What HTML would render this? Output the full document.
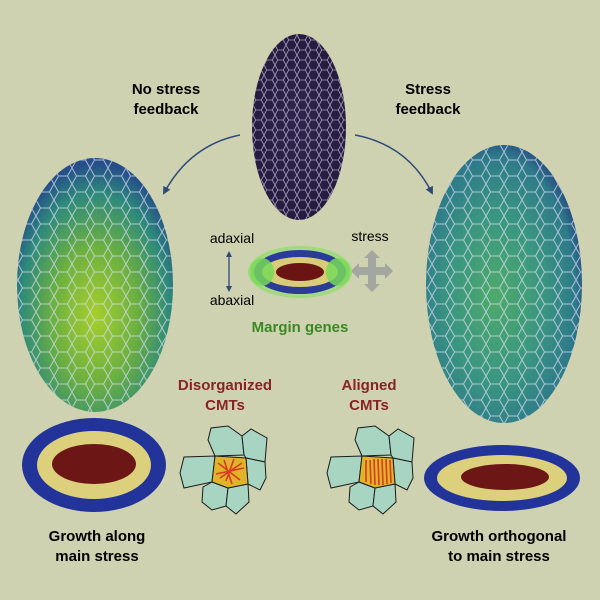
<!DOCTYPE html>
<html><head><style>
html,body{margin:0;padding:0;background:#cfd2b0;}
svg{display:block}
text{font-family:"Liberation Sans",Arial,sans-serif;}
</style></head><body>
<svg width="600" height="600" viewBox="0 0 600 600" xmlns="http://www.w3.org/2000/svg">
<defs>
 <pattern id="hex" width="18" height="16" patternUnits="userSpaceOnUse">
  <path d="M0 8 L4.5 0 L13.5 0 L18 8 L13.5 16 L4.5 16 Z" fill="none" stroke="#d8dcf0" stroke-width="1" opacity="0.75"/>
 </pattern>
 <pattern id="hexs" width="11" height="10" patternUnits="userSpaceOnUse">
  <path d="M0 5 L2.7 0 L8.3 0 L11 5 L8.3 10 L2.7 10 Z" fill="none" stroke="#c9c4e0" stroke-width="0.8" opacity="0.75"/>
 </pattern>
 <radialGradient id="gl" cx="0.5" cy="0.62" r="0.6">
  <stop offset="0" stop-color="#a6cf2c"/><stop offset="0.45" stop-color="#6cb040"/><stop offset="0.8" stop-color="#2e8a7a"/><stop offset="1" stop-color="#254e8a"/>
 </radialGradient>
 <radialGradient id="gr" cx="0.45" cy="0.55" r="0.6">
  <stop offset="0" stop-color="#4eaa6a"/><stop offset="0.5" stop-color="#3a9680"/><stop offset="0.85" stop-color="#2e7a8a"/><stop offset="1" stop-color="#243e80"/>
 </radialGradient>
 <radialGradient id="gp" cx="0.5" cy="0.5" r="0.6">
  <stop offset="0" stop-color="#30244e"/><stop offset="1" stop-color="#231a3c"/>
 </radialGradient>
 <radialGradient id="gm" cx="0.5" cy="0.5" r="0.55">
  <stop offset="0.6" stop-color="#7ee05a" stop-opacity="0"/><stop offset="1" stop-color="#7ee05a" stop-opacity="0.9"/>
 </radialGradient>
 <marker id="ah" markerWidth="8" markerHeight="8" refX="6" refY="4" orient="auto" markerUnits="userSpaceOnUse">
  <path d="M0 0 L8 4 L0 8 Z" fill="#2e4a78"/>
 </marker>
</defs>

<ellipse cx="299" cy="127" rx="47" ry="93" fill="url(#gp)"/>
<ellipse cx="299" cy="127" rx="47" ry="93" fill="url(#hexs)"/>

<ellipse cx="95" cy="285" rx="78" ry="127" fill="url(#gl)"/>
<ellipse cx="95" cy="285" rx="78" ry="127" fill="url(#hex)"/>
<ellipse cx="504" cy="284" rx="78" ry="139" fill="url(#gr)"/>
<ellipse cx="504" cy="284" rx="78" ry="139" fill="url(#hex)"/>

<path d="M240 135 Q190 145 164 193" fill="none" stroke="#2e4a78" stroke-width="1.5" marker-end="url(#ah)"/>
<path d="M355 135 Q408 145 432 193" fill="none" stroke="#2e4a78" stroke-width="1.5" marker-end="url(#ah)"/>

<text x="166" y="94" font-size="15" font-weight="bold" text-anchor="middle">No stress</text>
<text x="166" y="114" font-size="15" font-weight="bold" text-anchor="middle">feedback</text>
<text x="428" y="94" font-size="15" font-weight="bold" text-anchor="middle">Stress</text>
<text x="428" y="114" font-size="15" font-weight="bold" text-anchor="middle">feedback</text>

<text x="232" y="243" font-size="14" text-anchor="middle">adaxial</text>
<text x="232" y="305" font-size="14" text-anchor="middle">abaxial</text>
<line x1="229" y1="254" x2="229" y2="289" stroke="#2e4a78" stroke-width="1.3"/>
<path d="M226 257 L229 251 L232 257 Z M226 286 L229 292 L232 286 Z" fill="#2e4a78"/>
<text x="370" y="241" font-size="14" text-anchor="middle">stress</text>
<path d="M372 250 L380 258 L376 258 L376 267 L385 267 L385 263 L393 271 L385 279 L385 275 L376 275 L376 284 L380 284 L372 292 L364 284 L368 284 L368 275 L359 275 L359 279 L351 271 L359 263 L359 267 L368 267 L368 258 L364 258 Z" fill="#a4a6a0"/>
<ellipse cx="300" cy="272" rx="52" ry="26" fill="url(#gm)"/>
<ellipse cx="300" cy="272" rx="46" ry="22" fill="#2a3c98"/>
<ellipse cx="300" cy="272" rx="38" ry="15" fill="#d8cc78"/>
<ellipse cx="300" cy="272" rx="24" ry="9" fill="#6a1414"/>
<ellipse cx="262" cy="272" rx="12" ry="14" fill="#78d858" opacity="0.85"/>
<ellipse cx="338" cy="272" rx="12" ry="14" fill="#78d858" opacity="0.85"/>
<text x="300" y="332" font-size="15" font-weight="bold" fill="#3a8a24" text-anchor="middle">Margin genes</text>

<text x="225" y="390" font-size="15" font-weight="bold" fill="#8a2424" text-anchor="middle">Disorganized</text>
<text x="225" y="410" font-size="15" font-weight="bold" fill="#8a2424" text-anchor="middle">CMTs</text>
<text x="369" y="390" font-size="15" font-weight="bold" fill="#8a2424" text-anchor="middle">Aligned</text>
<text x="369" y="410" font-size="15" font-weight="bold" fill="#8a2424" text-anchor="middle">CMTs</text>

<ellipse cx="94" cy="465" rx="72" ry="47" fill="#22349a"/>
<ellipse cx="94" cy="465" rx="57" ry="34" fill="#ddd07c"/>
<ellipse cx="94" cy="464" rx="42" ry="20" fill="#6c1616"/>
<ellipse cx="502" cy="478" rx="78" ry="33" fill="#22349a"/>
<ellipse cx="502" cy="478" rx="65" ry="23" fill="#ddd07c"/>
<ellipse cx="505" cy="477" rx="44" ry="13" fill="#6c1616"/>

<g transform="translate(4,8)">
<g stroke="#1a1a1a" stroke-width="1" fill="#a8d4c2">
 <path d="M211 448 L204 432 L207 420 L224 418 L238 428 L240 447 Z"/>
 <path d="M240 447 L238 428 L247 421 L263 430 L261 454 L242 450 Z"/>
 <path d="M211 448 L208 474 L180 480 L176 465 L180 449 Z"/>
 <path d="M242 450 L261 454 L262 470 L256 482 L244 476 Z"/>
 <path d="M208 474 L224 480 L222 498 L208 502 L198 494 L199 479 Z"/>
 <path d="M224 480 L244 476 L245 494 L232 506 L222 498 Z"/>
 <path d="M211 448 L242 450 L244 476 L224 480 L208 474 Z" fill="#e0b428"/>
 <path d="M358 448 L351 432 L354 420 L371 418 L385 428 L387 447 Z"/>
 <path d="M387 447 L385 428 L394 421 L410 430 L408 454 L389 450 Z"/>
 <path d="M358 448 L355 474 L327 480 L323 465 L327 449 Z"/>
 <path d="M389 450 L408 454 L409 470 L403 482 L391 476 Z"/>
 <path d="M355 474 L371 480 L369 498 L355 502 L345 494 L346 479 Z"/>
 <path d="M371 480 L391 476 L392 494 L379 506 L369 498 Z"/>
 <path d="M358 448 L389 450 L391 476 L371 480 L355 474 Z" fill="#e0b428"/>
</g>
<g stroke="#d83a24" stroke-width="1.6" fill="none">
 <path d="M214 455 L236 472 M220 452 L228 476 M238 455 L216 470 M212 466 L240 460 M230 451 L222 473"/>
 <path d="M362 452 L362 474 M366 452 L367 476 M370 451 L371 477 M374 451 L375 477 M378 451 L379 477 M382 451 L383 476 M386 452 L387 475"/>
</g>
</g>

<text x="97" y="541" font-size="15" font-weight="bold" text-anchor="middle">Growth along</text>
<text x="97" y="561" font-size="15" font-weight="bold" text-anchor="middle">main stress</text>
<text x="499" y="541" font-size="15" font-weight="bold" text-anchor="middle">Growth orthogonal</text>
<text x="499" y="561" font-size="15" font-weight="bold" text-anchor="middle">to main stress</text>
</svg>
</body></html>
